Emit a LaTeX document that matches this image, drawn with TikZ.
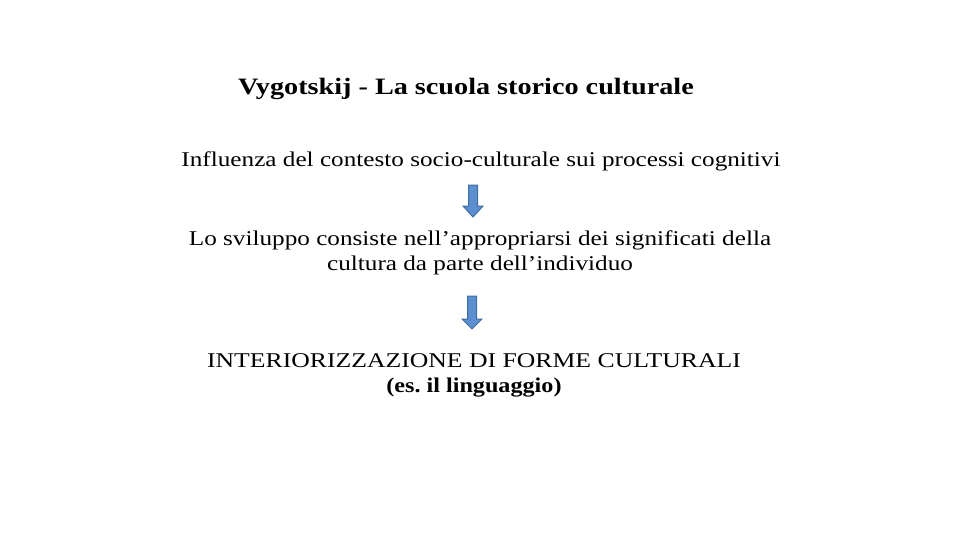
\documentclass[tikz,border=0pt]{standalone}
\usepackage{fontspec}
\setmainfont{Liberation Serif}
\frenchspacing
\definecolor{arrowfill}{HTML}{5B8FD0}
\definecolor{arrowline}{HTML}{3F6E9E}
\tikzset{
	txt/.style={align=center, inner sep=0pt, transform shape, xscale=1.2, font=\fontsize{21}{25}\selectfont},
	blockarrow/.style={draw=arrowline, fill=arrowfill, line width=1pt, line join=miter},
}
% block arrow pointing down: #1 = top centre, body half width 4.5, head half width 10
\newcommand{\downarrowat}[3]{%
	\draw[blockarrow] ($(#1)+(-4.5,0)$) -- ($(#1)+(4.5,0)$) -- ($(#1)+(4.5,#2)$) -- ($(#1)+(10,#2)$)
		-- ($(#1)+(0,#3)$) -- ($(#1)+(-10,#2)$) -- ($(#1)+(-4.5,#2)$) -- cycle;}
\usetikzlibrary{calc}
\begin{document}
\begin{tikzpicture}[x=1pt, y=-1pt]
		\useasboundingbox (0,0) rectangle (960,540);
		\node[txt, font=\fontsize{23.5}{28}\selectfont\bfseries] (title) at (466,89) {Vygotskij - La scuola storico culturale};
		\node[txt] (influenza) at (481,161) {Influenza del contesto socio-culturale sui processi cognitivi};
		\node[txt] (sviluppo) at (480,253) {Lo sviluppo consiste nell’appropriarsi dei significati della\\cultura da parte dell’individuo};
		\node[txt, xscale=1.02] (interior) at (474,375) {INTERIORIZZAZIONE DI FORME CULTURALI\\\scalebox{0.94}[1]{\textbf{(es. il linguaggio)}}};
		\coordinate (arr1) at (473,185);
		\coordinate (arr2) at (472,296);
		\downarrowat{arr1}{21}{32}
		\downarrowat{arr2}{23}{33}
		\end{tikzpicture}
\end{document}
